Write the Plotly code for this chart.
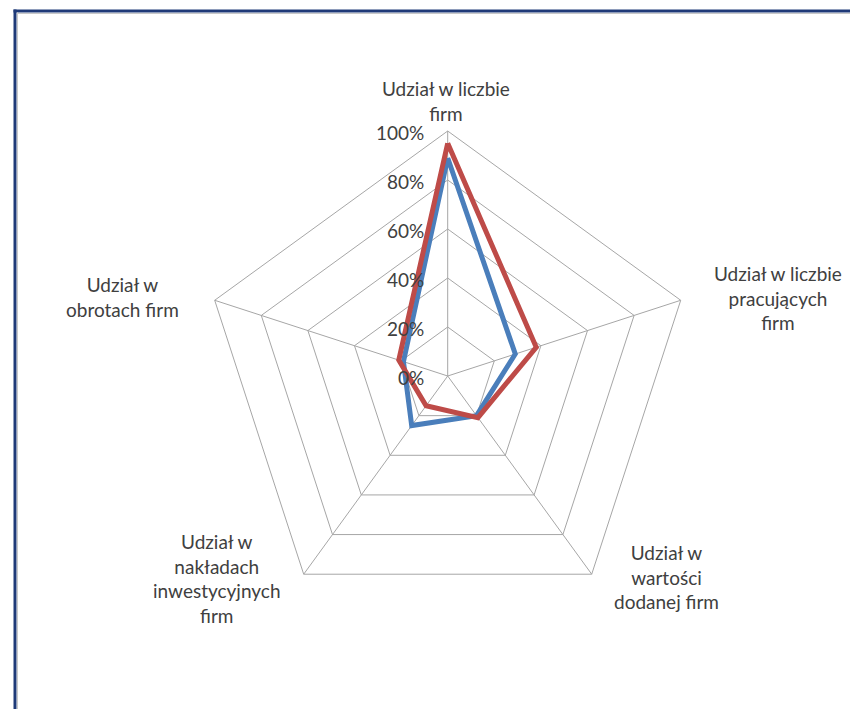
import plotly.graph_objects as go

categories = [
    "Udział w liczbie<br>firm",
    "Udział w liczbie<br>pracujących<br>firm",
    "Udział w<br>wartości<br>dodanej firm",
    "Udział w<br>nakładach<br>inwestycyjnych<br>firm",
    "Udział w<br>obrotach firm",
]
series_blue = [0.89, 0.29, 0.20, 0.25, 0.19]
series_red = [0.95, 0.38, 0.21, 0.15, 0.21]
radial_ticks = [0, 0.2, 0.4, 0.6, 0.8, 1.0]

W, H = 858, 709
OFF = 8  # page body margin
cx, cy, R = 447.7 - OFF, 376.0 - OFF, 245.0

# label block centres (page px) for category labels
label_pos = [(446, 101), (778, 298), (666, 577), (217, 578), (122, 297)]

fig = go.Figure()
fig.add_trace(go.Scatterpolar(
    r=series_blue + series_blue[:1], theta=categories + categories[:1],
    mode="lines", line=dict(color="#4A7EBB", width=5), showlegend=False,
    name="Seria 1"))
fig.add_trace(go.Scatterpolar(
    r=series_red + series_red[:1], theta=categories + categories[:1],
    mode="lines", line=dict(color="#BE4B48", width=5), showlegend=False,
    name="Seria 2"))

font_color = "#404040"
fsize = 19
annotations = [
    dict(text=c, xref="paper", yref="paper",
         x=(px - OFF) / W, y=1 - (py - OFF) / H,
         xanchor="center", yanchor="middle", align="center", showarrow=False,
         font=dict(size=fsize, color=font_color))
    for c, (px, py) in zip(categories, label_pos)
]
# radial (percentage) labels placed left of the vertical spoke, at each ring level
annotations += [
    dict(text=f"{round(v * 100)}%", xref="paper", yref="paper",
         x=(cx - 22) / W, y=1 - (cy - R * v + 1.5) / H,
         xanchor="right", yanchor="middle", showarrow=False,
         font=dict(size=fsize, color=font_color))
    for v in radial_ticks
]

fig.update_layout(
    width=W, height=H,
    margin=dict(l=0, r=0, t=0, b=0),
    paper_bgcolor="white",
    font=dict(family="Lato, 'Open Sans', sans-serif", size=fsize, color=font_color),
    polar=dict(
        domain=dict(x=[(cx - R) / W, (cx + R) / W],
                    y=[(H - cy - R) / H, (H - cy + R) / H]),
        bgcolor="white",
        gridshape="linear",
        angularaxis=dict(
            rotation=90, direction="clockwise",
            categoryorder="array", categoryarray=categories,
            showline=True, linecolor="#A6A6A6", linewidth=1,
            gridcolor="#A6A6A6", gridwidth=1,
            ticks="", showticklabels=False,
        ),
        radialaxis=dict(
            range=[0, 1], tickvals=radial_ticks, tickformat=".0%",
            angle=90, showline=False, ticks="", showticklabels=False,
            gridcolor="#A6A6A6", gridwidth=1,
        ),
    ),
    annotations=annotations,
    shapes=[
        dict(type="line", xref="paper", yref="paper",
             x0=(15 - OFF) / W, x1=(15 - OFF) / W, y0=-0.05, y1=1 - (9.5 - OFF) / H,
             line=dict(color="#1F3A78", width=3)),
        dict(type="line", xref="paper", yref="paper",
             x0=(13.5 - OFF) / W, x1=1.05, y0=1 - (11 - OFF) / H, y1=1 - (11 - OFF) / H,
             line=dict(color="#1F3A78", width=3)),
        dict(type="line", xref="paper", yref="paper",
             x0=(17.5 - OFF) / W, x1=(17.5 - OFF) / W, y0=-0.05, y1=1 - (12.5 - OFF) / H,
             line=dict(color="#C8C8C8", width=1)),
        dict(type="line", xref="paper", yref="paper",
             x0=(17.5 - OFF) / W, x1=1.05, y0=1 - (13.5 - OFF) / H, y1=1 - (13.5 - OFF) / H,
             line=dict(color="#C8C8C8", width=1)),
    ],
)

fig.write_html("out.html")
